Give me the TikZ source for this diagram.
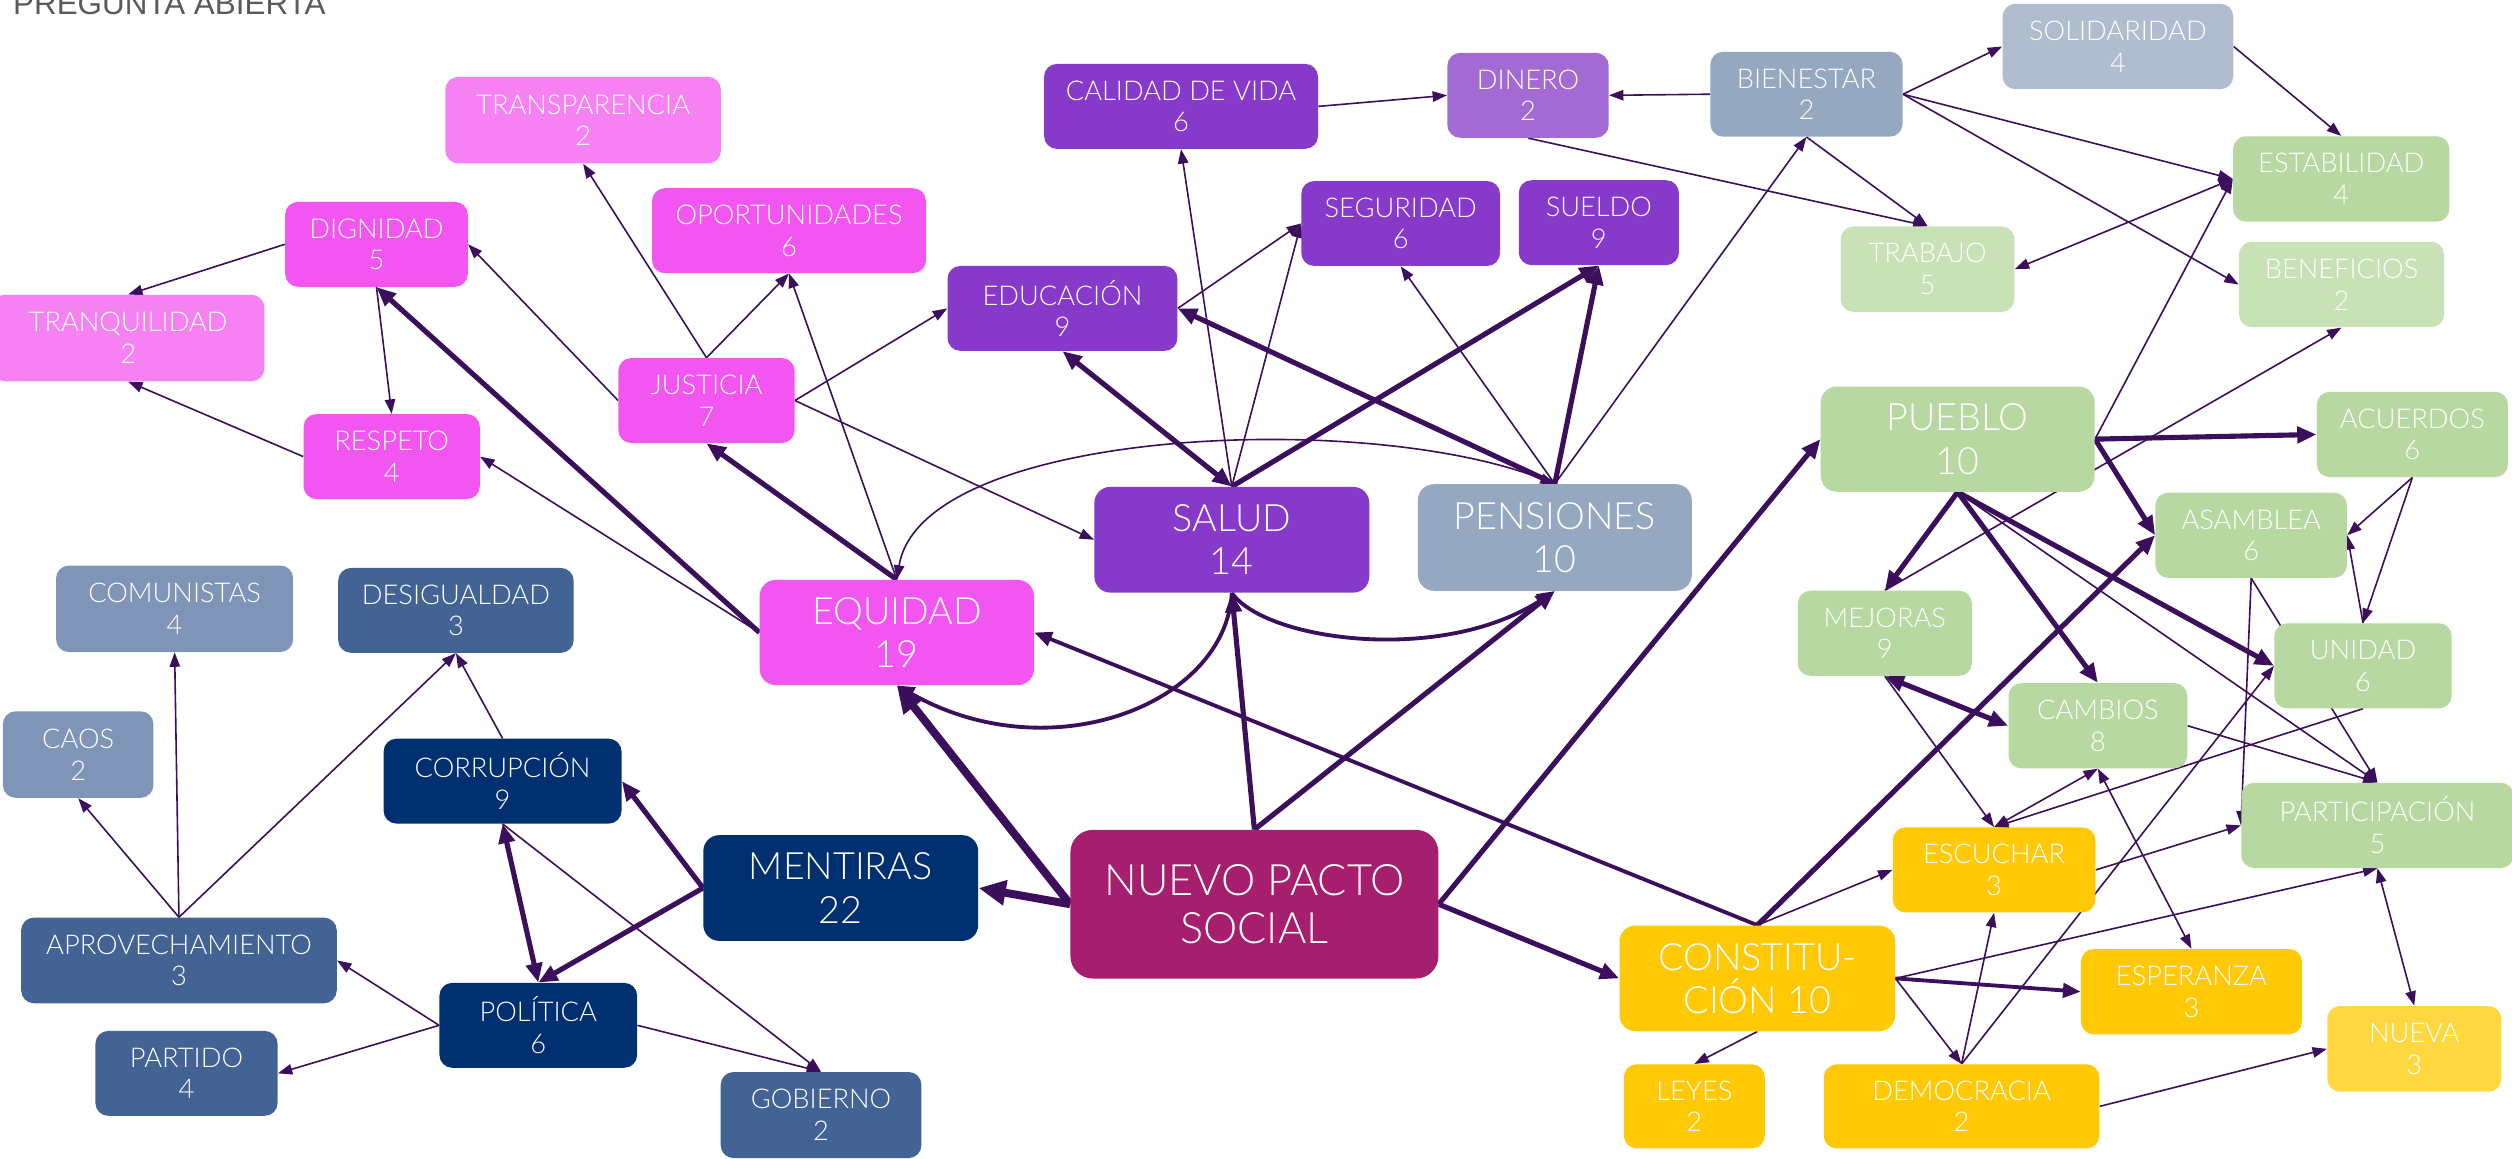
\documentclass[tikz,border=0pt]{standalone}
\usepackage{fontspec}
\usetikzlibrary{arrows.meta}
\IfFontExistsTF{Lato Light}{\newfontfamily\nodefont{Lato Light}}{\newfontfamily\nodefont{Lato}}
\newfontfamily\titlefont{Liberation Sans}

\definecolor{cpink}{HTML}{F255F0}
\definecolor{cpinkL}{HTML}{F581F3}
\definecolor{cpurple}{HTML}{8739C9}
\definecolor{cpurpleL}{HTML}{A46AD3}
\definecolor{cgrayb}{HTML}{96A8BF}
\definecolor{cgraybL}{HTML}{AFBDCF}
\definecolor{cgreen}{HTML}{B7D8A0}
\definecolor{cgreenL}{HTML}{C8E1B6}
\definecolor{cyellow}{HTML}{FFC906}
\definecolor{cyellowL}{HTML}{FFD740}
\definecolor{cnps}{HTML}{A51F6E}
\definecolor{cnavy}{HTML}{00306F}
\definecolor{cblueM}{HTML}{426394}
\definecolor{cblueL}{HTML}{7F95B7}
\definecolor{edgec}{HTML}{3B0F5B}
\definecolor{titlegray}{HTML}{5A5A5A}

\pgfdeclarelayer{edges}
\pgfsetlayers{edges,main}

\tikzset{
  box/.style={rounded corners=8pt, text=white, align=center, inner sep=0pt,
    font=\nodefont\fontsize{17}{19.8}\selectfont},
  bigbox/.style={box, rounded corners=10pt, font=\nodefont\fontsize{23.5}{27}\selectfont},
  npsbox/.style={box, rounded corners=14pt, font=\nodefont\fontsize{27}{30.5}\selectfont},
  ethin/.style={draw=edgec, line width=1pt, -{Triangle[length=9pt,width=6.5pt]}},
  ethinboth/.style={draw=edgec, line width=1pt, {Triangle[length=9pt,width=6.5pt]}-{Triangle[length=9pt,width=6.5pt]}},
  emed/.style={draw=edgec, line width=2.4pt, -{Triangle[length=11pt,width=9pt]}},
  ethick/.style={draw=edgec, line width=3.2pt, -{Triangle[length=12pt,width=10pt]}},
  ethickboth/.style={draw=edgec, line width=3.2pt, {Triangle[length=12pt,width=10pt]}-{Triangle[length=12pt,width=10pt]}},
  eheavy/.style={draw=edgec, line width=5pt, -{Triangle[length=17pt,width=15pt]}},
}

\begin{document}
\begin{tikzpicture}[x=1pt,y=-1pt]
\useasboundingbox (0,0) rectangle (1568,723.4);

\node[anchor=base west, inner sep=0pt, text=titlegray,
  font=\titlefont\fontsize{19.6}{22}\selectfont] (title) at (8,9.3) {PREGUNTA ABIERTA};

% equity cluster
\node[box,fill=cpinkL,minimum width=172pt,minimum height=54pt] (transp) at (364,75) {TRANSPARENCIA\\2};
\node[box,fill=cpink,minimum width=114pt,minimum height=53pt] (dig) at (235,152.5) {DIGNIDAD\\5};
\node[box,fill=cpinkL,minimum width=170pt,minimum height=54pt] (tranq) at (80,211) {TRANQUILIDAD\\2};
\node[box,fill=cpink,minimum width=110pt,minimum height=53pt] (resp) at (244.5,285) {RESPETO\\4};
\node[box,fill=cpink,minimum width=110pt,minimum height=53pt] (just) at (441,250) {JUSTICIA\\7};
\node[box,fill=cpink,minimum width=171pt,minimum height=53pt] (oport) at (492.5,144) {OPORTUNIDADES\\6};
\node[bigbox,fill=cpink,minimum width=171.2pt,minimum height=65.6pt] (equ) at (559.8,394.8) {EQUIDAD\\19};

% politics cluster
\node[box,fill=cblueL,minimum width=148pt,minimum height=54pt] (comun) at (109,380) {COMUNISTAS\\4};
\node[box,fill=cblueM,minimum width=147pt,minimum height=53pt] (desig) at (284.6,381) {DESIGUALDAD\\3};
\node[box,fill=cblueL,minimum width=94pt,minimum height=54pt] (caos) at (48.8,471) {CAOS\\2};
\node[box,fill=cnavy,minimum width=148.5pt,minimum height=53pt] (corr) at (313.7,487.6) {CORRUPCIÓN\\9};
\node[bigbox,fill=cnavy,minimum width=171.6pt,minimum height=66pt] (ment) at (524.8,554.3) {MENTIRAS\\22};
\node[box,fill=cblueM,minimum width=197pt,minimum height=53.5pt] (aprov) at (111.7,599.5) {APROVECHAMIENTO\\3};
\node[box,fill=cnavy,minimum width=123.4pt,minimum height=53pt] (pol) at (336,640) {POLÍTICA\\6};
\node[box,fill=cblueM,minimum width=113.7pt,minimum height=53pt] (partido) at (116.4,670) {PARTIDO\\4};
\node[box,fill=cblueM,minimum width=125.3pt,minimum height=53.7pt] (gob) at (512.5,696) {GOBIERNO\\2};

% centre
\node[npsbox,fill=cnps,minimum width=229.7pt,minimum height=92.8pt] (nps) at (783,564.4) {NUEVO PACTO\\SOCIAL};

% health / pensions cluster
\node[bigbox,fill=cpurple,minimum width=171.6pt,minimum height=66pt] (salud) at (768.9,336.9) {SALUD\\14};
\node[bigbox,fill=cgrayb,minimum width=171pt,minimum height=66.5pt] (pens) at (970.5,335.5) {PENSIONES\\10};
\node[box,fill=cpurple,minimum width=171pt,minimum height=53pt] (cal) at (737.2,66.4) {CALIDAD DE VIDA\\6};
\node[box,fill=cpurpleL,minimum width=100.7pt,minimum height=53pt] (din) at (953.8,59.5) {DINERO\\2};
\node[box,fill=cpurple,minimum width=143.5pt,minimum height=53pt] (edu) at (663.2,192.5) {EDUCACIÓN\\9};
\node[box,fill=cpurple,minimum width=124pt,minimum height=53pt] (seg) at (874.3,139.5) {SEGURIDAD\\6};
\node[box,fill=cpurple,minimum width=100pt,minimum height=53pt] (sueldo) at (998,139) {SUELDO\\9};
\node[box,fill=cgrayb,minimum width=120pt,minimum height=53pt] (bien) at (1127.6,58.8) {BIENESTAR\\2};
\node[box,fill=cgraybL,minimum width=144pt,minimum height=53.3pt] (sol) at (1322,29) {SOLIDARIDAD\\4};

% people cluster
\node[box,fill=cgreen,minimum width=135pt,minimum height=53.3pt] (estab) at (1461.4,111.7) {ESTABILIDAD\\4};
\node[box,fill=cgreenL,minimum width=108.4pt,minimum height=53.3pt] (trab) at (1203.2,168) {TRABAJO\\5};
\node[box,fill=cgreenL,minimum width=128pt,minimum height=53.3pt] (benef) at (1461.6,177.6) {BENEFICIOS\\2};
\node[bigbox,fill=cgreen,minimum width=171pt,minimum height=65.7pt] (pueblo) at (1222,274.1) {PUEBLO\\10};
\node[box,fill=cgreen,minimum width=119.3pt,minimum height=53.3pt] (acu) at (1505.8,271.2) {ACUERDOS\\6};
\node[box,fill=cgreen,minimum width=119.5pt,minimum height=53.2pt] (asam) at (1405.2,334.1) {ASAMBLEA\\6};
\node[box,fill=cgreen,minimum width=108.7pt,minimum height=53.2pt] (mej) at (1176.5,395.3) {MEJORAS\\9};
\node[box,fill=cgreen,minimum width=110.7pt,minimum height=53.1pt] (unid) at (1475,415.6) {UNIDAD\\6};
\node[box,fill=cgreen,minimum width=111.6pt,minimum height=53.2pt] (camb) at (1309.5,453) {CAMBIOS\\8};
\node[box,fill=cgreen,minimum width=170pt,minimum height=53.2pt] (part) at (1484,515.2) {PARTICIPACIÓN\\5};

% constitution cluster
\node[bigbox,fill=cyellow,minimum width=172pt,minimum height=66pt] (const) at (1096.9,610.7) {CONSTITU-\\CIÓN 10};
\node[box,fill=cyellow,minimum width=88pt,minimum height=52.5pt] (leyes) at (1057.6,690.6) {LEYES\\2};
\node[box,fill=cyellow,minimum width=126.5pt,minimum height=53pt] (esc) at (1244.7,543) {ESCUCHAR\\3};
\node[box,fill=cyellow,minimum width=138pt,minimum height=53.2pt] (esp) at (1367.9,619) {ESPERANZA\\3};
\node[box,fill=cyellowL,minimum width=108.6pt,minimum height=53.5pt] (nueva) at (1507,654.7) {NUEVA\\3};
\node[box,fill=cyellow,minimum width=172pt,minimum height=52.5pt] (dem) at (1224.4,690.6) {DEMOCRACIA\\2};

\begin{pgfonlayer}{edges}
% equity cluster
\draw[ethin] (dig.west) -- (tranq.north);
\draw[ethin] (resp.west) -- (tranq.south);
\draw[ethin] (dig.south) -- (resp.north);
\draw[ethick] (equ.west) -- (dig.south);
\draw[ethin] (just.west) -- (dig.east);
\draw[ethin] (just.north) -- (transp.south);
\draw[ethin] (just.north) -- (oport.south);
\draw[ethin] (equ.north) -- (oport.south);
\draw[ethin] (just.east) -- (edu.west);
\draw[ethin] (just.east) -- (salud.west);
\draw[ethick] (equ.north) -- (just.south);
\draw[ethin] (equ.west) -- (resp.east);
\draw[ethinboth] (equ.north) .. controls (575,268) and (850,255) .. (pens.north);

% health / pensions cluster
\draw[ethin] (salud.north) -- (cal.south);
\draw[ethin] (salud.north) -- (seg.west);
\draw[ethin] (edu.east) -- (seg.west);
\draw[ethickboth] (salud.north) -- (edu.south);
\draw[ethick] (salud.north) -- (sueldo.south);
\draw[ethick] (pens.north) -- (sueldo.south);
\draw[ethick] (pens.north) -- (edu.east);
\draw[ethin] (pens.north) -- (seg.south);
\draw[ethin] (pens.north) -- (bien.south);
\draw[ethin] (cal.east) -- (din.west);
\draw[ethin] (bien.west) -- (din.east);
\draw[ethin] (din.south) -- (trab.north);
\draw[ethin] (bien.south) -- (trab.north);
\draw[ethin] (bien.east) -- (sol.west);
\draw[ethin] (bien.east) -- (estab.west);
\draw[ethin] (bien.east) -- (benef.west);
\draw[ethin] (sol.east) -- (estab.north);
\draw[ethinboth] (estab.west) -- (trab.east);

% people cluster
\draw[ethin] (pueblo.east) -- (estab.west);
\draw[ethin] (mej.north) -- (benef.south);
\draw[ethick] (pueblo.east) -- (acu.west);
\draw[ethick] (pueblo.east) -- (asam.west);
\draw[ethick] (pueblo.south) -- (mej.north);
\draw[ethick] (pueblo.south) -- (camb.north);
\draw[ethick] (pueblo.south) -- (unid.west);
\draw[ethin] (pueblo.south) -- (part.north);
\draw[ethin] (acu.south) -- (asam.east);
\draw[ethin] (acu.south) -- (unid.north);
\draw[ethin] (unid.north) -- (asam.east);
\draw[ethin] (asam.south) -- (part.west);
\draw[ethin] (asam.south) -- (part.north);
\draw[ethin] (unid.south) -- (esc.north);
\draw[ethin] (camb.east) -- (part.north);
\draw[ethin] (mej.south) -- (esc.north);
\draw[ethickboth] (mej.south) -- (camb.west);
\draw[ethinboth] (esc.north) -- (camb.south);
\draw[ethinboth] (esp.north) -- (camb.south);
\draw[ethin] (esc.east) -- (part.west);

% constitution cluster
\draw[emed] (const.north) -- (equ.east);
\draw[ethick] (const.north) -- (asam.west);
\draw[ethin] (const.north) -- (esc.west);
\draw[ethin] (const.east) -- (part.south);
\draw[emed] (const.east) -- (esp.west);
\draw[ethin] (const.east) -- (dem.north);
\draw[ethin] (const.south) -- (leyes.north);
\draw[ethin] (dem.north) -- (esc.south);
\draw[ethin] (dem.north) -- (unid.west);
\draw[ethin] (dem.east) -- (nueva.west);
\draw[ethinboth] (part.south) -- (nueva.north);

% centre
\draw[eheavy] (nps.west) -- (ment.east);
\draw[eheavy] (nps.west) -- (equ.south);
\draw[ethick] (nps.north) -- (salud.south);
\draw[ethick] (nps.north) -- (pens.south);
\draw[ethick] (nps.east) -- (pueblo.west);
\draw[ethick] (nps.east) -- (const.west);
\draw[emed] (salud.south) .. controls (765,440) and (655,482) .. (equ.south);
\draw[emed] (salud.south) .. controls (790,400) and (900,415) .. (pens.south);

% politics cluster
\draw[ethick] (ment.west) -- (corr.east);
\draw[ethick] (ment.west) -- (pol.north);
\draw[ethickboth] (corr.south) -- (pol.north);
\draw[ethin] (corr.south) -- (gob.north);
\draw[ethin] (corr.north) -- (desig.south);
\draw[ethin] (pol.east) -- (gob.north);
\draw[ethin] (pol.west) -- (aprov.east);
\draw[ethin] (pol.west) -- (partido.east);
\draw[ethin] (aprov.north) -- (caos.south);
\draw[ethin] (aprov.north) -- (comun.south);
\draw[ethin] (aprov.north) -- (desig.south);
\end{pgfonlayer}
\end{tikzpicture}
\end{document}
